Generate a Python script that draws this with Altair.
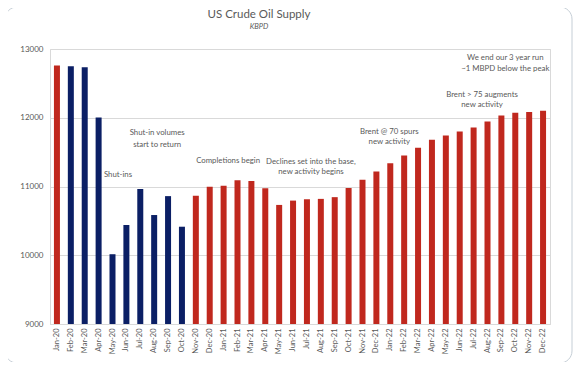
import altair as alt
import pandas as pd

months = ["Jan-20","Feb-20","Mar-20","Apr-20","May-20","Jun-20","Jul-20","Aug-20","Sep-20","Oct-20","Nov-20","Dec-20",
          "Jan-21","Feb-21","Mar-21","Apr-21","May-21","Jun-21","Jul-21","Aug-21","Sep-21","Oct-21","Nov-21","Dec-21",
          "Jan-22","Feb-22","Mar-22","Apr-22","May-22","Jun-22","Jul-22","Aug-22","Sep-22","Oct-22","Nov-22","Dec-22"]
supply = [12760, 12750, 12735, 12005, 10015, 10440, 10965, 10585, 10860, 10415, 10866, 10995,
          11010, 11090, 11080, 10976, 10732, 10795, 10815, 10820, 10845, 10978,
          11100, 11220, 11339, 11450, 11562, 11679, 11742, 11800, 11858, 11946, 12034, 12073, 12083, 12102]
groups = ["Actual"] + ["Shut-in period"] * 9 + ["Actual"] * 26

ann_text = ["Shut-ins", "Shut-in volumes", "start to return", "Completions begin",
            "Declines set into the base,", "new activity begins", "Brent @ 70 spurs", "new activity",
            "Brent > 75 augments", "new activity", "We end our 3 year run", "~1 MBPD below the peak"]
ann_month = ["May-20", "Aug-20", "Aug-20", "Jan-21", "Jul-21", "Jul-21", "Jan-22", "Jan-22",
             "Aug-22", "Aug-22", "Oct-22", "Oct-22"]
ann_value = [11167, 11778, 11604, 11371, 11356, 11211, 11793, 11647, 12331, 12185, 12869, 12709]
ann_dx = [5.5, 3, 3, 4.5, 4, 4, -1, -1, -5.5, -5.5, -10, -10]

title_text = ["US Crude Oil Supply"]
subtitle_text = ["KBPD"]

bars_df = pd.DataFrame({"month": months, "supply": supply, "group": groups})
ann_df = pd.DataFrame({"month": ann_month, "supply": ann_value, "text": ann_text, "dx": ann_dx})

FONT = "Lato"
GRAY = "#595959"

x_enc = alt.X("month:N", sort=None, title=None,
              scale=alt.Scale(domain=months, paddingInner=0, paddingOuter=0),
              axis=alt.Axis(labelAngle=270, ticks=False, domain=True, domainColor="#d9d9d9",
                            labelFontSize=7.5, labelColor=GRAY, labelPadding=4, labelFont=FONT))
y_enc = alt.Y("supply:Q", title=None,
              scale=alt.Scale(domain=[9000, 13000], nice=False, zero=False),
              axis=alt.Axis(values=list(range(9000, 13001, 500)), ticks=False, domain=False, format="d",
                            gridColor="#d9d9d9", labelFontSize=8, labelColor=GRAY,
                            labelPadding=7, labelFont=FONT))

card = alt.Chart(pd.DataFrame({"a": [0]})).mark_rect(
    fill="white", stroke="#c5ced6", strokeWidth=1, cornerRadius=12, fillOpacity=0
).encode(x=alt.value(-45), x2=alt.value(522), y=alt.value(-42), y2=alt.value(314))

title = alt.Chart(pd.DataFrame({"t": title_text})).mark_text(
    font=FONT, fontSize=11.5, color=GRAY, align="center", baseline="middle"
).encode(x=alt.value(209), y=alt.value(-34), text="t:N")
subtitle = alt.Chart(pd.DataFrame({"t": subtitle_text})).mark_text(
    font=FONT, fontSize=7.5, fontStyle="italic", color=GRAY, align="center", baseline="middle"
).encode(x=alt.value(209), y=alt.value(-22), text="t:N")

bars = alt.Chart(bars_df).mark_bar(size=6, clip=True).encode(
    x=x_enc, y=y_enc, y2=alt.datum(9000),
    color=alt.Color("group:N", legend=None,
                    scale=alt.Scale(domain=["Actual", "Shut-in period"], range=["#c0281e", "#0b1f65"]))
)

ann_layers = []
for d in sorted(set(ann_dx)):
    sub = ann_df[ann_df["dx"] == d]
    ann_layers.append(
        alt.Chart(sub).mark_text(font=FONT, fontSize=7.8, color=GRAY, baseline="middle", align="center", dx=d)
        .encode(x=alt.X("month:N", sort=None, scale=alt.Scale(domain=months)), y="supply:Q", text="text:N")
    )

chart = alt.layer(card, title, subtitle, bars, *ann_layers).properties(
    width=500, height=275,
    padding={"left": 42, "top": 41, "right": 25, "bottom": 38},
    autosize=alt.AutoSizeParams(type="none"),
).configure_view(stroke="#d9d9d9")

chart.save("out.html", embed_options={"renderer": "svg", "actions": False})
